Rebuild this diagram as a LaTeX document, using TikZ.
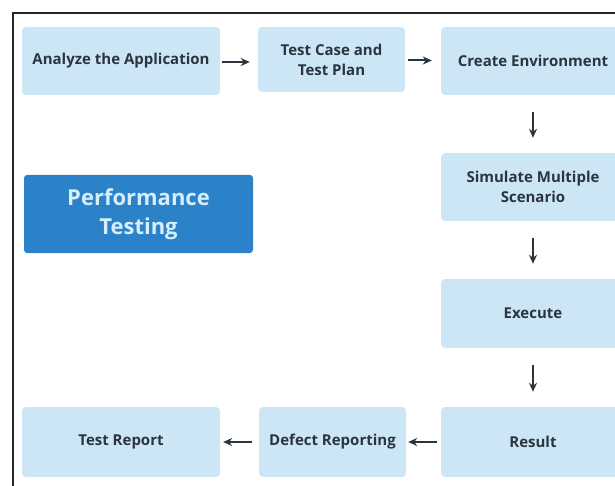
\documentclass[tikz,border=0pt]{standalone}
\usepackage{fontspec}
\setmainfont{Open Sans}
\usepackage{tikz}
\usetikzlibrary{positioning, arrows.meta}
\usepackage{xcolor}
\definecolor{boxblue}{HTML}{CDE6F6}
\definecolor{boxtext}{HTML}{2B3540}
\definecolor{perfblue}{HTML}{2B82C9}
\definecolor{perftext}{HTML}{D6EDFB}

\tikzset{
    stepbox/.style={fill=boxblue, rounded corners=4pt, text=boxtext, align=center,
        font=\fontsize{15}{20}\selectfont\bfseries, inner sep=0pt},
    flow/.style={-{Stealth[length=9pt, width=8pt]}, line width=2pt, draw=boxtext}
}

\begin{document}
\begin{tikzpicture}[x=1pt, y=-1pt]
    \useasboundingbox (0,0) rectangle (615,486);
    % Frame
    \draw[line width=2pt, gray!30!black] (13,490) -- (13,13) -- (620,13);

    % Top row
    \node[stepbox, minimum width=198pt, minimum height=68pt] (analyze) at (121,61) {Analyze the Application};
    \node[stepbox, minimum width=147pt, minimum height=65pt] (plan) at (331.5,59.5) {Test Case and\\Test Plan};
    \node[stepbox, minimum width=184pt, minimum height=68pt] (env) at (533,61) {Create Environment};

    % Right column
    \node[stepbox, minimum width=184pt, minimum height=68pt] (simulate) at (533,187) {Simulate Multiple\\Scenario};
    \node[stepbox, minimum width=184pt, minimum height=69pt] (execute) at (533,313.5) {Execute};

    % Bottom row
    \node[stepbox, minimum width=184pt, minimum height=70pt] (result) at (533,442) {Result};
    \node[stepbox, minimum width=147pt, minimum height=70pt] (defect) at (332.5,442) {Defect Reporting};
    \node[stepbox, minimum width=198pt, minimum height=70pt] (report) at (121,442) {Test Report};

    % Title box
    \node[fill=perfblue, rounded corners=3pt, text=perftext, align=center,
        minimum width=229pt, minimum height=78pt, inner sep=0pt,
        font=\fontsize{22}{29}\selectfont\bfseries] (title) at (138.5,214) {Performance\\Testing};

    % Arrows
    \draw[flow, shorten <=2pt, shorten >=8pt] ([yshift=-1pt]analyze.east) -- ([yshift=-1pt]analyze.east -| plan.west);
    \draw[flow, shorten <=3pt, shorten >=9pt] ([yshift=-1pt]plan.east) -- ([yshift=-1pt]plan.east -| env.west);
    \draw[flow, shorten <=17pt, shorten >=15pt] (env.south) -- (simulate.north);
    \draw[flow, shorten <=17pt, shorten >=15pt] (simulate.south) -- (execute.north);
    \draw[flow, shorten <=17pt, shorten >=15pt] (execute.south) -- (result.north);
    \draw[flow, shorten <=4pt, shorten >=2pt] (result.west) -- (defect.east);
    \draw[flow, shorten <=7pt, shorten >=3pt] (defect.west) -- (report.east);
\end{tikzpicture}
\end{document}
